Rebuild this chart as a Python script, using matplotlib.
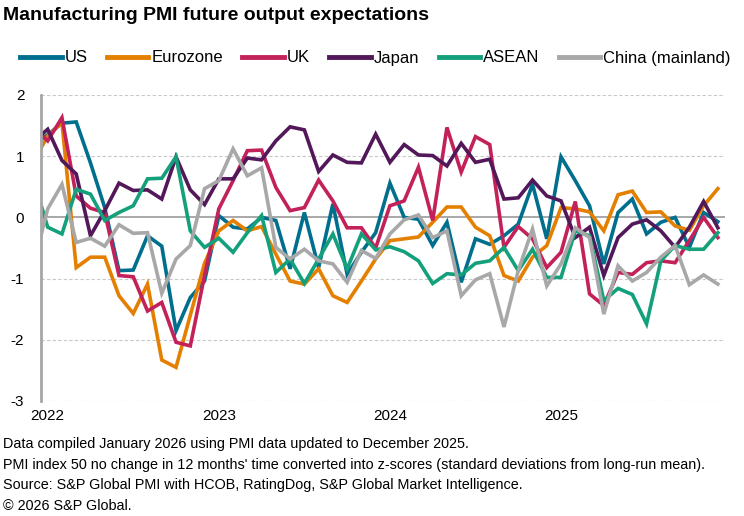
import numpy as np
import pandas as pd
import matplotlib
import matplotlib.pyplot as plt
matplotlib.use('Agg')

### DATA ###
# monthly, Dec 2021 (clipped at left edge) to Dec 2025
months = pd.date_range('2021-12-01', '2025-12-01', freq='MS')
us = [1.20, 1.35, 1.54, 1.56, 0.89, 0.16, -0.87, -0.86, -0.30, -0.47, -1.85, -1.31, -1.04,
      0.03, -0.16, -0.19, 0.00, -0.05, -0.84, 0.08, -0.82, 0.22, -0.93, -0.57, -0.25,
      0.56, 0.00, -0.03, -0.46, -0.08, -1.06, -0.35, -0.44, -0.30, -0.11, 0.54, -0.35,
      0.99, 0.60, 0.19, -0.76, 0.08, 0.30, -0.27, -0.08, 0.00, -0.49, 0.08, -0.07]
eurozone = [0.91, 1.33, 1.55, -0.82, -0.65, -0.65, -1.28, -1.57, -1.09, -2.33, -2.45, -1.60, -0.75,
            -0.22, -0.05, -0.22, -0.15, -0.60, -1.04, -1.09, -0.84, -1.28, -1.39, -1.04, -0.68,
            -0.38, -0.35, -0.32, -0.08, 0.17, 0.17, -0.16, -0.30, -0.95, -1.04, -0.65, -0.46,
            0.16, 0.14, 0.09, -0.22, 0.37, 0.43, 0.08, 0.09, -0.14, -0.21, 0.19, 0.47]
uk = [1.47, 1.25, 1.63, 0.35, 0.15, 0.08, -0.95, -0.97, -1.53, -1.39, -2.04, -2.10, -0.95,
      0.14, 0.60, 1.09, 1.10, 0.49, 0.11, 0.16, 0.61, 0.27, -0.17, -0.17, -0.50,
      0.19, 0.27, 0.82, -0.05, 1.47, 0.74, 1.32, 1.19, -0.49, -0.15, -0.35, -0.82,
      -0.57, 0.26, -1.25, -1.44, -0.90, -0.93, -0.74, -0.71, -0.74, -0.38, 0.00, -0.33]
japan = [1.24, 1.44, 0.93, 0.71, -0.30, 0.11, 0.56, 0.44, 0.45, 0.30, 0.99, 0.45, 0.21,
         0.63, 0.63, 0.97, 0.94, 1.25, 1.48, 1.43, 0.75, 1.02, 0.90, 0.89, 1.36,
         0.90, 1.19, 1.02, 1.01, 0.84, 1.21, 0.90, 0.95, 0.30, 0.32, 0.61, 0.35,
         0.27, -0.33, -0.16, -0.95, -0.33, -0.11, -0.04, -0.22, -0.49, -0.16, 0.26, -0.17]
asean = [0.62, -0.16, -0.27, 0.46, 0.38, -0.05, 0.08, 0.19, 0.63, 0.64, 0.99, -0.22, -0.49,
         -0.34, -0.57, -0.25, 0.03, -0.90, -0.68, -1.08, -0.68, -0.27, -0.84, -0.27, -0.53,
         -0.48, -0.56, -0.71, -1.08, -0.92, -0.94, -0.75, -0.71, -0.49, -0.87, -0.52, -0.98,
         -0.98, -0.22, -0.30, -1.36, -1.16, -1.26, -1.74, -0.71, -0.46, -0.52, -0.52, -0.25]
china = [-0.78, 0.14, 0.54, -0.41, -0.34, -0.47, -0.12, -0.26, -0.25, -1.24, -0.68, -0.46, 0.47,
         0.60, 1.12, 0.68, 0.81, -0.49, -0.68, -0.52, -0.71, -0.76, -1.06, -0.54, -0.67,
         -0.27, -0.04, 0.04, -0.33, -0.22, -1.28, -1.02, -0.92, -1.79, -0.87, -0.19, -1.12,
         -0.76, -0.17, -0.33, -1.58, -0.79, -1.04, -0.90, -0.65, -0.46, -1.10, -0.94, -1.09]

series = {
    'US': (us, '#006f8e'),
    'Eurozone': (eurozone, '#e47f00'),
    'UK': (uk, '#c3215a'),
    'Japan': (japan, '#52185a'),
    'ASEAN': (asean, '#14a07b'),
    'China (mainland)': (china, '#a8a8a8'),
}
year_labels = ['2022', '2023', '2024', '2025']
notes = [
    'Data compiled January 2026 using PMI data updated to December 2025.',
    "PMI index 50 no change in 12 months' time converted into z-scores (standard deviations from long-run mean).",
    'Source: S&P Global PMI with HCOB, RatingDog, S&P Global Market Intelligence.',
    '\u00a9 2026 S&P Global.',
]

plt.rcParams['font.family'] = ['Liberation Sans', 'DejaVu Sans']

### PLOT ###
W, H = 744, 516
fig = plt.figure(figsize=(W / 100, H / 100), dpi=100)
ax = fig.add_axes([41 / W, 1 - 401 / H, (725 - 41) / W, (401 - 95) / H])

x = np.arange(len(months)) - 1  # Jan 2022 -> 0
for name, (vals, col) in series.items():
    ax.plot(x, vals, color=col, lw=2.6, label=name, solid_joinstyle='miter')

ax.set_xlim(-0.47, 47.5)
ax.set_ylim(-3, 2)
ax.set_yticks([2, 1, 0, -1, -2, -3])
ax.set_yticklabels(['2', '1', '0', '-1', '-2', '-3'])
ax.set_xticks([0, 12, 24, 36])
ax.set_xticklabels(year_labels)
ax.tick_params(axis='both', length=0, labelsize=11, colors='black')
ax.tick_params(axis='y', pad=12)
ax.tick_params(axis='x', pad=6)

# gridlines
for v in [2, 1, -1, -2, -3]:
    ax.axhline(v, color='#c8c8c8', lw=0.8, ls=(0, (3, 2)), zorder=0)
ax.axhline(0, color='#999999', lw=1.2, zorder=0.5)

for s in ['top', 'right', 'bottom']:
    ax.spines[s].set_visible(False)
ax.spines['left'].set_color('#a6a6a6')
ax.spines['left'].set_linewidth(2)

fig.text(3 / W, 1 - 15 / H, 'Manufacturing PMI future output expectations',
         fontsize=14, fontweight='bold', va='center', ha='left')

fig.legend(loc='center left', bbox_to_anchor=(20 / W, 1 - 58 / H), ncol=6, frameon=False,
           fontsize=12, handlelength=2.5, handletextpad=0.18, columnspacing=1.15,
           borderpad=0, borderaxespad=0)
for lh in fig.legends[0].get_lines():
    lh.set_linewidth(3.5)

for k, line in enumerate(notes):
    fig.text(3 / W, 1 - (444 + 20.7 * k) / H, line, fontsize=10.4, va='center', ha='left')

fig.savefig('out.png', dpi=100)
